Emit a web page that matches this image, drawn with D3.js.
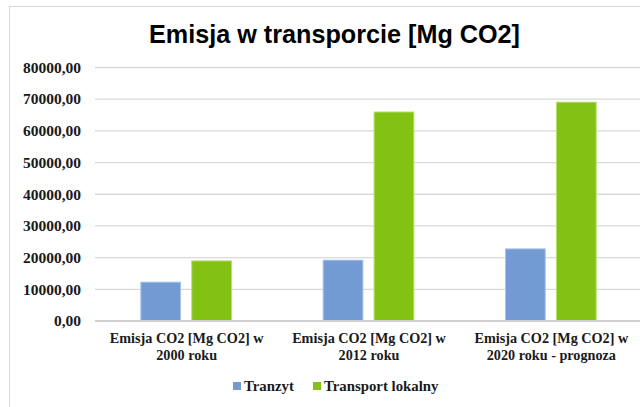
<!DOCTYPE html>
<html>
<head>
<meta charset="utf-8">
<script src="https://cdn.jsdelivr.net/npm/d3@7"></script>
<style>
	body { margin: 0; background: #fff; }
	text { font-family: "Liberation Serif", serif; font-weight: bold; fill: #1a1a1a; }
	.title { font-family: "Liberation Sans", Arial, sans-serif; font-size: 25.2px; fill: #000; }
</style>
</head>
<body>
<div id="chart"></div>
<script>

var categories = [
	["Emisja CO2 [Mg CO2] w", "2000 roku"],
	["Emisja CO2 [Mg CO2] w", "2012 roku"],
	["Emisja CO2 [Mg CO2] w", "2020 roku - prognoza"]
];
var seriesNames = ["Tranzyt", "Transport lokalny"];
var tranzyt = [12100, 19050, 22600];
var lokalny = [18800, 65800, 68900];
var yTicks = [0, 10000, 20000, 30000, 40000, 50000, 60000, 70000, 80000];

createChart();

function createChart() {

	var svgWidth = 640;
	var svgHeight = 407;
	var color = d3.scaleOrdinal().domain(seriesNames).range(["#729bd3", "#83c113"]);
	var stroke = d3.scaleOrdinal().domain(seriesNames).range(["#a9c4e8", "#b5e06a"]);

	var svg = d3.select('#chart').append('svg')
		.attr('width', svgWidth)
		.attr('height', svgHeight);

	// chart frame (runs past the right edge, as in the screenshot)
	svg.append('rect')
		.attr('x', 9.5).attr('y', 6.5)
		.attr('width', 660).attr('height', 420)
		.style('fill', 'none').style('stroke', '#d9d9d9');

	svg.append('text')
		.attr('class', 'title')
		.attr('x', 334.5).attr('y', 43)
		.style('text-anchor', 'middle')
		.text('Emisja w transporcie [Mg CO2]');

	var x0 = d3.scaleBand().domain(d3.range(categories.length)).range([95, 642]);
	var x1 = d3.scaleBand().domain(seriesNames).range([0, x0.bandwidth()])
		.paddingInner(0.2).paddingOuter(0.89);
	var y = d3.scaleLinear().domain([0, 80000]).range([320.5, 67]);

	var fmt = function(d) { return d3.format('.2f')(d).replace('.', ','); };

	var yAxis = d3.axisLeft(y).tickValues(yTicks).tickSize(-(642 - 95)).tickFormat(fmt);
	var gy = svg.append('g').attr('transform', 'translate(95,0)').call(yAxis);
	gy.select('.domain').remove();
	gy.selectAll('.tick line').style('stroke', '#d9d9d9').style('stroke-width', 1.3);
	gy.selectAll('.tick text').attr('x', -14).attr('dy', '0.34em')
		.style('font-size', '15.5px').style('fill', '#1a1a1a');

	var data = categories.map(function(c, i) {
		return [{key: seriesNames[0], value: tranzyt[i]}, {key: seriesNames[1], value: lokalny[i]}];
	});

	var groups = svg.selectAll('.grp').data(data).enter().append('g')
		.attr('class', 'grp')
		.attr('transform', function(d, i) { return 'translate(' + x0(i) + ',0)'; });

	groups.selectAll('rect').data(function(d) { return d; }).enter().append('rect')
		.attr('x', function(d) { return x1(d.key) + 0.5; })
		.attr('width', x1.bandwidth() - 1)
		.attr('y', function(d) { return y(d.value); })
		.attr('height', function(d) { return y(0) - y(d.value); })
		.style('fill', function(d) { return color(d.key); })
		.style('stroke', function(d) { return stroke(d.key); });

	// x axis baseline
	svg.append('line')
		.attr('x1', 95).attr('x2', 642)
		.attr('y1', y(0) + 0.5).attr('y2', y(0) + 0.5)
		.style('stroke', '#d0d0d0').style('stroke-width', 2);

	var labels = svg.selectAll('.cat').data(categories).enter().append('text')
		.attr('class', 'cat')
		.attr('transform', function(d, i) { return 'translate(' + (x0(i) + x0.bandwidth() / 2 + 0.5) + ',0)'; })
		.style('text-anchor', 'middle')
		.style('font-size', '14.2px');
	labels.selectAll('tspan').data(function(d) { return d; }).enter().append('tspan')
		.attr('x', 0)
		.attr('y', function(d, i) { return 343 + i * 16.7; })
		.text(function(d) { return d; });

	var legendX = [233, 313];
	var legend = svg.selectAll('.legend').data(seriesNames).enter().append('g')
		.attr('class', 'legend')
		.attr('transform', function(d, i) { return 'translate(' + legendX[i] + ',382)'; });

	legend.append('rect')
		.attr('width', 8).attr('height', 8)
		.style('fill', color);

	legend.append('text')
		.attr('x', 11).attr('y', 9)
		.style('font-size', '14.8px')
		.text(function(d) { return d; });
}
</script>
</body>
</html>
